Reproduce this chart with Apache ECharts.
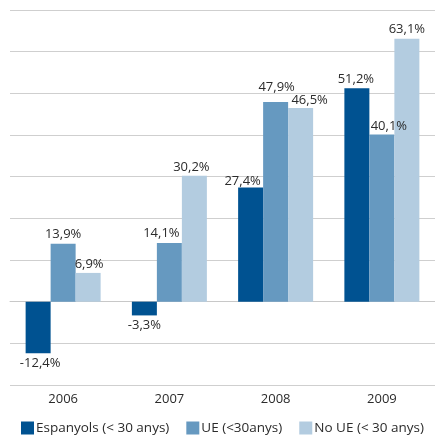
<!DOCTYPE html>
<html><head><meta charset="utf-8">
<script src="https://cdn.jsdelivr.net/npm/echarts@6/dist/echarts.min.js"></script>
<style>html,body{margin:0;padding:0;background:#fff}#c{width:435px;height:436px}</style>
</head><body><div id="c"></div>
<script>
const categories = ['2006', '2007', '2008', '2009'];
const seriesNames = ['Espanyols (< 30 anys)', 'UE (<30anys)', 'No UE (< 30 anys)'];
const espanyols = [-12.4, -3.3, 27.4, 51.2];
const ue = [13.9, 14.1, 47.9, 40.1];
const noUe = [6.9, 30.2, 46.5, 63.1];
const colors = ['#005291', '#6699C0', '#B3CCE0'];
const FONT = 'Open Sans';
// label nudges [dx, dy] to reproduce the reference's overlap-avoided label placement
const labelNudges = [
  [[2, 0], [0, 0], [-8, 3], [-1, 0]],
  [[0, 0], [-8, 0], [1, -5], [7, 1]],
  [[1, 1], [-3, 1], [9, 2], [0, 0]]
];

function fmt(v) { return String(v.toFixed(1)).replace('.', ',') + '%'; }
function toData(arr, si) {
  return arr.map((v, i) => ({
    value: v,
    label: { position: v < 0 ? 'bottom' : 'top', offset: labelNudges[si][i] }
  }));
}
const allSeries = [espanyols, ue, noUe].map((arr, i) => ({
  name: seriesNames[i],
  type: 'bar',
  data: toData(arr, i),
  barWidth: 25,
  barGap: '0%',
  itemStyle: { color: colors[i] },
  label: {
    show: true, position: 'top', distance: 3,
    color: '#2b2b2b', fontFamily: FONT, fontSize: 13,
    formatter: p => fmt(p.value)
  }
}));

const chart = echarts.init(document.getElementById('c'), null, { renderer: 'canvas' });
chart.setOption({
  animation: false,
  color: colors,
  grid: { left: 10, right: -7, top: 10, bottom: 51, containLabel: false },
  xAxis: {
    type: 'category', data: categories,
    axisLine: { show: true, lineStyle: { color: '#c8c8c8', width: 1 } },
    axisTick: { show: false },
    axisLabel: { color: '#2b2b2b', fontFamily: FONT, fontSize: 13, margin: 8 }
  },
  yAxis: {
    type: 'value', min: -20, max: 70, interval: 10,
    axisLine: { show: false }, axisTick: { show: false },
    axisLabel: { show: false },
    splitLine: { lineStyle: { color: '#cfcfcf', width: 1 } }
  },
  legend: {
    top: 421, left: 21, width: 430, padding: 0,
    itemWidth: 13, itemHeight: 13, itemGap: 17,
    icon: 'rect',
    textStyle: { color: '#2b2b2b', fontFamily: FONT, fontSize: 13.5, padding: [0, 0, 0, -3] },
    data: seriesNames
  },
  series: allSeries
});
</script></body></html>
